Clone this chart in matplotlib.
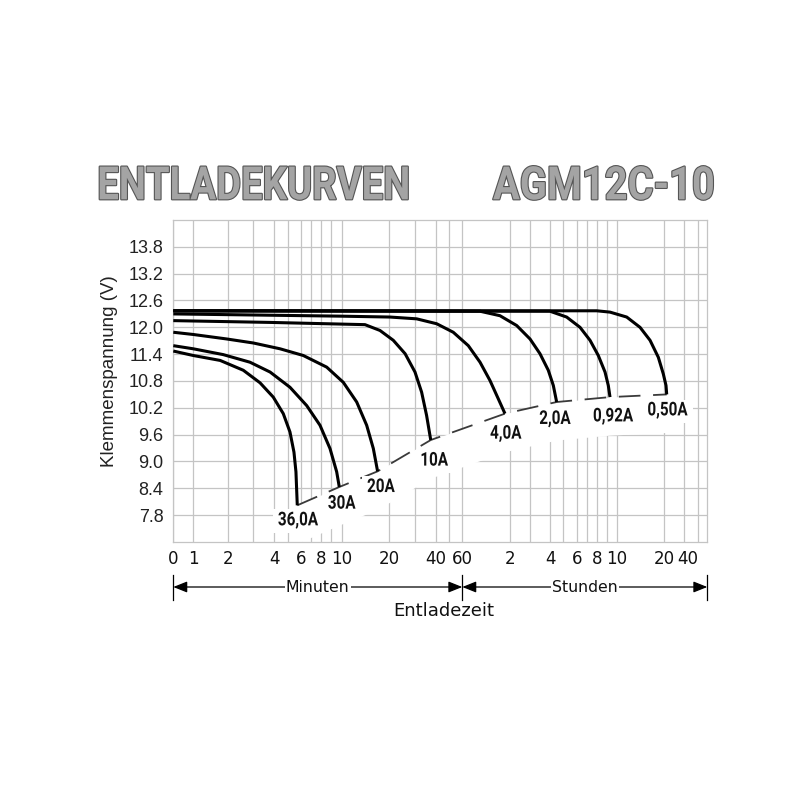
import numpy as np
import matplotlib
matplotlib.use("Agg")
import matplotlib.pyplot as plt
from matplotlib.patheffects import AbstractPathEffect
from matplotlib.textpath import TextPath
from matplotlib.ticker import FixedLocator, FixedFormatter, NullFormatter
from matplotlib.transforms import Affine2D, ScaledTranslation, blended_transform_factory

# ── Data (time in minutes, voltage in V) ─────────────────────────────────────
T_36A = [0, 1, 1.78, 2.61, 3.32, 3.95, 4.67, 5.17, 5.47, 5.62, 5.72]
V_36A = [11.47, 11.37, 11.26, 11.04, 10.76, 10.44, 10.07, 9.66, 9.21, 8.77, 8.02]

T_30A = [0, 1, 1.87, 2.87, 3.80, 5.17, 6.57, 7.9, 8.9, 9.54, 9.79]
V_30A = [11.59, 11.52, 11.39, 11.22, 11.0, 10.66, 10.25, 9.81, 9.29, 8.77, 8.43]

T_20A = [0, 1, 1.97, 3.0, 4.43, 6.23, 8.57, 10.38, 13.2, 15.3, 16.7, 17.6]
V_20A = [11.89, 11.84, 11.74, 11.65, 11.52, 11.37, 11.11, 10.77, 10.33, 9.81, 9.29, 8.78]

T_10A = [0, 3.8, 14.95, 18.1, 21.65, 26.2, 30.0, 33.2, 35.6, 37.6]
V_10A = [12.15, 12.11, 12.06, 11.93, 11.71, 11.41, 11.0, 10.55, 10.03, 9.48]

T_4A = [0, 9.86, 20.4, 30.8, 40.75, 53.2, 67.6, 82.4, 95, 105.5, 113.9]
V_4A = [12.30, 12.25, 12.23, 12.19, 12.08, 11.89, 11.59, 11.22, 10.81, 10.40, 10.07]

T_2A = [0, 82.4, 107.6, 141, 181.5, 210.7, 235, 255, 270]
V_2A = [12.37, 12.36, 12.26, 12.04, 11.74, 11.41, 11.04, 10.70, 10.33]

T_092A = [0, 240, 315, 380, 440, 489.6, 530, 549.6, 559.8]
V_092A = [12.37, 12.36, 12.23, 12.0, 11.71, 11.37, 11.0, 10.70, 10.44]

T_05A = [0, 480, 560, 727, 896, 1023, 1128, 1191, 1318, 1360]
V_05A = [12.37, 12.37, 12.34, 12.23, 12.0, 11.71, 11.33, 10.96, 10.70, 10.50]

CURVES = [(T_36A, V_36A), (T_30A, V_30A), (T_20A, V_20A), (T_10A, V_10A),
          (T_4A, V_4A), (T_2A, V_2A), (T_092A, V_092A), (T_05A, V_05A)]
LABELS = ["36,0A", "30A", "20A", "10A", "4,0A", "2,0A", "0,92A", "0,50A"]

TICK_T      = [0, 1, 2, 4, 6, 8, 10, 20, 40, 60, 120, 240, 360, 480, 600, 1200, 2400]
TICK_LABELS = ["0", "1", "2", "4", "6", "8", "10", "20", "40", "60",
               "2", "4", "6", "8", "10", "20", "40"]
GRID_T      = [3, 5, 7, 9, 30, 50, 180, 300, 420, 540, 3600]
Y_TICKS     = [7.8, 8.4, 9.0, 9.6, 10.2, 10.8, 11.4, 12.0, 12.6, 13.2, 13.8]

# ── Time axis: the chart's own (hand drawn) minute / hour spacing ────────────
SCALE_T  = [0, 1, 2, 3, 4, 5, 6, 7, 8, 9, 10, 20, 30, 40, 50, 60, 120, 180, 240,
            300, 360, 420, 480, 540, 600, 1200, 2400, 3600, 4800]
SCALE_PX = [173.3, 193.3, 227.7, 253.3, 274.3, 287.7, 301, 311, 321, 331, 341.5,
            389, 415, 435.7, 449, 462.3, 509.8, 529.5, 550, 563.3, 576.7, 586.7,
            596.7, 606.7, 616.7, 664, 684.3, 697.7, 707.3]
SCALE_U  = [(p - SCALE_PX[0]) / (SCALE_PX[-1] - SCALE_PX[0]) for p in SCALE_PX]

def fwd(t):
    return np.interp(t, SCALE_T, SCALE_U)

def inv(u):
    return np.interp(u, SCALE_U, SCALE_T)


class TallText(AbstractPathEffect):
    """Draw glyphs stretched vertically about the baseline (condensed type look)."""

    def __init__(self, sy, stroke=None, stroke_w=0.0):
        super().__init__()
        self.sy, self.stroke, self.stroke_w = sy, stroke, stroke_w

    def draw_path(self, renderer, gc, tpath, affine, rgbFace=None):
        aff = Affine2D().scale(1.0, self.sy) + affine
        if self.stroke is not None:
            gc0 = renderer.new_gc()
            gc0.copy_properties(gc)
            gc0.set_foreground(self.stroke)
            gc0.set_linewidth(self.stroke_w)
            renderer.draw_path(gc0, tpath, aff, rgbFace)
            gc0.restore()
        renderer.draw_path(gc, tpath, aff, rgbFace)


BOLD_FONT = ["Roboto", "DejaVu Sans"]
GRID_C = "#c4c4c4"

fig = plt.figure(figsize=(8, 8), dpi=100)
fig.patch.set_facecolor("white")
renderer = fig.canvas.get_renderer()

def fit_tall(txt, width_px, cap_px, stroke=None, stroke_w=0.0):
    w = txt.get_window_extent(renderer).width
    fs = txt.get_fontsize() * width_px / w
    txt.set_fontsize(fs)
    cap = TextPath((0, 0), "H", size=fs * fig.dpi / 72,
                   prop=txt.get_fontproperties()).get_extents().height
    sy = cap_px / cap
    txt.set_path_effects([TallText(sy, stroke, stroke_w)])
    return fs, sy

ax = fig.add_axes([173.3 / 800, 1 - 542 / 800, 534 / 800, 322 / 800])
ax.set_xscale("function", functions=(fwd, inv))
ax.set_xlim(0, 4800)
ax.set_ylim(7.2, 14.4)

ax.xaxis.set_major_locator(FixedLocator(TICK_T))
ax.xaxis.set_major_formatter(FixedFormatter(TICK_LABELS))
ax.xaxis.set_minor_locator(FixedLocator(GRID_T))
ax.xaxis.set_minor_formatter(NullFormatter())
ax.set_yticks(Y_TICKS)
ax.set_yticklabels([f"{v:.1f}" for v in Y_TICKS])
ax.yaxis.set_minor_locator(FixedLocator([]))

ax.set_axisbelow(True)
ax.grid(which="both", color=GRID_C, lw=0.9)
for sp in ax.spines.values():
    sp.set_color(GRID_C)
    sp.set_linewidth(0.9)
ax.tick_params(which="both", length=0)
ax.tick_params(axis="x", pad=6, labelsize=12, labelcolor="#111111")
ax.tick_params(axis="y", pad=7, labelsize=13, labelcolor="#222222")
xlabs = ax.get_xticklabels()
for lab in xlabs:
    lab.set_family("DejaVu Sans")
xlabs[-1].set_transform(xlabs[-1].get_transform()
                        + ScaledTranslation(0.03, 0, fig.dpi_scale_trans))
for lab in ax.get_yticklabels():
    lab.set_family("Liberation Sans")

ax.set_ylabel("Klemmenspannung (V)", fontsize=13.5, family="Liberation Sans",
              color="#222222")
ax.yaxis.set_label_coords(-0.104, 0.531)

# end-of-discharge points, white band under them and dashed line
end_t = [c[0][-1] for c in CURVES]
end_v = [c[1][-1] for c in CURVES]
ax.fill_between(end_t, np.array(end_v) - 0.85, end_v, color="white", lw=0, zorder=1)

for t, v in CURVES:
    ax.plot(t, v, color="black", lw=2.2, solid_joinstyle="round",
            solid_capstyle="butt", zorder=3)
ax.plot(end_t, end_v, color="#3a3a3a", lw=1.3, ls=(0, (12, 7)), zorder=2)

# label offsets from the curve ends (points): centre x, baseline y
OFFSETS = [(0.5, -14.4), (1.7, -15.6), (2.4, -14.9), (2.5, -18.4),
           (0.6, -18.0), (-1.2, -15.8), (2.2, -17.5), (0.6, -15.1)]
label_texts = []
for lbl, t, v, off in zip(LABELS, end_t, end_v, OFFSETS):
    a = ax.annotate(lbl, xy=(t, v), xytext=off, textcoords="offset points",
                    ha="center", va="baseline", fontsize=11, fontweight="bold",
                    family=BOLD_FONT, color="#111111", zorder=5,
                    bbox=dict(fc="white", ec="none", pad=3.5))
    label_texts.append(a)
fs, sy = fit_tall(label_texts[0], 40, 13.5)
for a in label_texts[1:]:
    a.set_fontsize(fs)
    a.set_path_effects([TallText(sy)])

# ── Minuten / Stunden arrows ────────────────────────────────────────────────
bt = blended_transform_factory(ax.transData, fig.transFigure)
ba = blended_transform_factory(ax.transAxes, fig.transFigure)
Y_ARROW = 1 - 587 / 800
for t in (0, 60, 4800):
    ax.plot([t, t], [1 - 600 / 800, 1 - 575 / 800], color="black", lw=0.9,
            transform=bt, clip_on=False)
for a, b, name in ((0, 60, "Minuten"), (60, 4800, "Stunden")):
    ax.annotate("", xy=(b, Y_ARROW), xytext=(a, Y_ARROW),
                xycoords=bt, textcoords=bt, annotation_clip=False,
                arrowprops=dict(arrowstyle="<|-|>,head_length=0.7,head_width=0.28",
                                color="black", lw=0.9, mutation_scale=12,
                                shrinkA=0, shrinkB=0))
    ax.text((fwd(a) + fwd(b)) / 2, Y_ARROW, name, transform=ba, ha="center",
            va="center", fontsize=11.3, family="DejaVu Sans", color="#111111",
            bbox=dict(fc="white", ec="none", pad=1.0), zorder=5)

fig.text(444 / 800, 1 - 611 / 800, "Entladezeit", ha="center", va="center",
         fontsize=13, family="DejaVu Sans", color="#111111")

# ── Title ───────────────────────────────────────────────────────────────────
t1 = fig.text(97.3 / 800, 1 - 199.3 / 800, "ENTLADEKURVEN", ha="left",
              va="baseline", fontsize=28, fontweight="bold", family=BOLD_FONT,
              color="#a4a4a4")
t2 = fig.text(715 / 800, 1 - 199.3 / 800, "AGM12C-10", ha="right",
              va="baseline", fontsize=28, fontweight="bold", family=BOLD_FONT,
              color="#a4a4a4")
fit_tall(t1, 313, 32.7, stroke="#555555", stroke_w=1.6)
fit_tall(t2, 222, 32.7, stroke="#555555", stroke_w=1.6)

fig.savefig("out.png", dpi=100, facecolor="white")
